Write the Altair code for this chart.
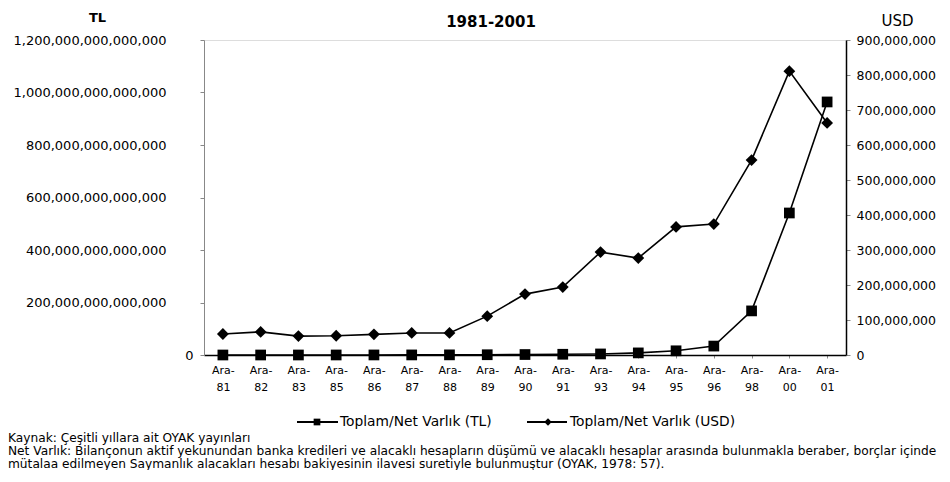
import altair as alt
import pandas as pd

categories = ["Ara-81", "Ara-82", "Ara-83", "Ara-85", "Ara-86", "Ara-87", "Ara-88", "Ara-89",
              "Ara-90", "Ara-91", "Ara-93", "Ara-94", "Ara-95", "Ara-96", "Ara-98", "Ara-00", "Ara-01"]
tl_values = [2.0e10, 3.5e10, 5.0e10, 1.2e11, 1.9e11, 3.0e11, 5.2e11, 1.0e12,
             1.8e12, 2.8e12, 4.0e12, 8.0e12, 1.6e13, 3.4e13, 1.68e14, 5.41e14, 9.64e14]
usd_values = [60e6, 66e6, 54e6, 55e6, 59e6, 63e6, 63e6, 111e6,
              174e6, 194e6, 294e6, 277e6, 366e6, 374e6, 557e6, 811e6, 663e6]
tl_ticks = [0, 2e14, 4e14, 6e14, 8e14, 1e15, 1.2e15]
usd_ticks = [0, 1e8, 2e8, 3e8, 4e8, 5e8, 6e8, 7e8, 8e8, 9e8]
legend_labels = ["Toplam/Net Varlık (TL)", "Toplam/Net Varlık (USD)"]
footnote_lines = [
    "Kaynak: Çeşitli yıllara ait OYAK yayınları",
    "Net Varlık: Bilançonun aktif yekunundan banka kredileri ve alacaklı hesapların düşümü ve alacaklı hesaplar arasında bulunmakla beraber, borçlar içinde",
    "mütalaa edilmeyen Saymanlık alacakları hesabı bakiyesinin ilavesi suretiyle bulunmuştur (OYAK, 1978: 57).",
]
title_text = "1981-2001"

df = pd.DataFrame({"cat": categories, "tl": tl_values, "usd": usd_values})

FONT = "DejaVu Sans"

x_enc = alt.X(
    "cat:N", sort=categories,
    scale=alt.Scale(type="point", padding=0.5),
    axis=alt.Axis(
        title=None, labelAngle=0, labelFont=FONT, labelFontSize=11, labelColor="black",
        labelExpr="[slice(datum.label, 0, 4), slice(datum.label, 4)]",
        labelLineHeight=17, labelBaseline="top", labelPadding=6,
        domainColor="black", domainWidth=1.5, tickColor="#888", tickSize=3,
    ),
)

base = alt.Chart(df)

tl_y = alt.Y(
    "tl:Q", scale=alt.Scale(domain=[0, 1.2e15], nice=False),
    axis=alt.Axis(
        orient="left", values=tl_ticks, grid=False,
        labelExpr="format(datum.value, ',.0f')",
        labelFont=FONT, labelFontSize=13, labelColor="black",
        labelPadding={"condition": {"test": "datum.value == 0", "value": 7}, "value": 34},
        domainColor="#888", tickColor="#888", tickSize=4,
        title="TL", titleAngle=0, titleX=-107, titleY=-23, titleAlign="center",
        titleBaseline="middle", titleFont=FONT, titleFontSize=13, titleFontWeight="bold",
        titleColor="black",
    ),
)
usd_y = alt.Y(
    "usd:Q", scale=alt.Scale(domain=[0, 9e8], nice=False),
    axis=alt.Axis(
        orient="right", values=usd_ticks, grid=False,
        labelExpr="format(datum.value, ',.0f')",
        labelFont=FONT, labelFontSize=12.5, labelColor="black", labelPadding=6,
        domainColor="black", domainWidth=1.5, tickColor="#888", tickSize=4,
        title="USD", titleAngle=0, titleX=51, titleY=-20, titleAlign="center",
        titleBaseline="middle", titleFont=FONT, titleFontSize=15, titleFontWeight="normal",
        titleColor="black",
    ),
)

tl_line = base.mark_line(color="black", strokeWidth=1.6).encode(x=x_enc, y=tl_y)
tl_pts = base.mark_point(shape="square", filled=True, color="black", size=115, opacity=1).encode(x=x_enc, y=tl_y)
usd_line = base.mark_line(color="black", strokeWidth=1.6).encode(x=x_enc, y=usd_y)
usd_pts = base.mark_point(shape="diamond", filled=True, color="black", size=140, opacity=1).encode(x=x_enc, y=usd_y)


def legend_entry(label, shape, size, x0, x1, xm, xt, y):
    one = alt.Chart(pd.DataFrame({"label": [label]}))
    rule = one.mark_rule(color="black", strokeWidth=1.8).encode(
        x=alt.value(x0), x2=alt.value(x1), y=alt.value(y))
    pt = one.mark_point(shape=shape, filled=True, color="black", size=size, opacity=1).encode(
        x=alt.value(xm), y=alt.value(y))
    txt = one.mark_text(align="left", baseline="middle", font=FONT, fontSize=13.8, color="black").encode(
        x=alt.value(xt), y=alt.value(y), text="label:N")
    return [rule, pt, txt]


leg = legend_entry(legend_labels[0], "square", 45, 93, 134, 113, 136, 382) + \
      legend_entry(legend_labels[1], "diamond", 55, 323, 363, 344, 366, 382)

note = alt.Chart(pd.DataFrame({"k": [0]})).mark_text(
    align="left", baseline="top", font=FONT, fontSize=12.2, lineHeight=13, color="black"
).encode(x=alt.value(-196), y=alt.value(392), text=alt.value(footnote_lines))

title = alt.Chart(pd.DataFrame({"t": [title_text]})).mark_text(
    align="center", baseline="middle", font=FONT, fontSize=15, fontWeight="bold", color="black"
).encode(x=alt.value(287), y=alt.value(-18), text="t:N")

chart = alt.layer(
    alt.layer(tl_line, tl_pts),
    alt.layer(usd_line, usd_pts),
    *leg, note, title,
).resolve_scale(y="independent").properties(
    width=642, height=315,
    autosize=alt.AutoSizeParams(type="none"),
    padding={"left": 196, "top": 32, "right": 94, "bottom": 115},
).configure_view(stroke="#999", strokeWidth=1).configure(background="white")

chart.save("out.html", embed_options={"renderer": "svg", "actions": False})
